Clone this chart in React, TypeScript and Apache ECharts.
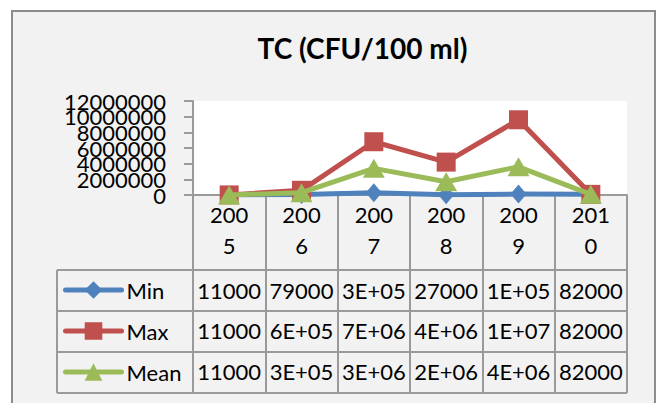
import { useEffect, useRef } from 'react';
import * as echarts from 'echarts';

// ---- data ----
const categories = ['2005', '2006', '2007', '2008', '2009', '2010'];
const seriesNames = ['Min', 'Max', 'Mean'];
const minValues = [11000, 79000, 300000, 27000, 120000, 82000];
const maxValues = [11000, 600000, 6800000, 4200000, 9600000, 82000];
const meanValues = [11000, 300000, 3400000, 1700000, 3600000, 82000];
const yTickLabels = ['0', '2000000', '4000000', '6000000', '8000000', '10000000', '12000000'];
const yMin = 0;
const yMax = 12000000;
const yStep = 2000000;
const titleText = 'TC (CFU/100 ml)';

// ---- styles ----
const FONT = 'Lato';
const GRID = '#9a9a9a';
const COLORS = ['#4f81bd', '#c0504d', '#9bbb59'];
const SYMBOLS = ['diamond', 'rect', 'triangle'];
const SYMBOL_SIZES: any[] = [[16, 19], 19, [22, 19]];

// Excel "General" format in a narrow cell
function excelGeneral(v: number): string {
  if (v < 100000) return String(v);
  return v
    .toExponential(0)
    .replace('e+', 'E+')
    .replace(/E\+(\d)$/, 'E+0$1');
}

const seriesValues = [minValues, maxValues, meanValues];
const rowMargins = [95, 135.5, 176.5];

export default function App() {
  const ref = useRef<HTMLDivElement>(null);
  useEffect(() => {
    const chart = echarts.init(ref.current!, null, { renderer: 'svg' });
    const tableLeft = 57;
    const tableRight = 627;
    const rowLines = [270, 311, 352, 393];

    chart.setOption({
      animation: false,
      backgroundColor: '#ffffff',
      grid: {
        left: 193,
        top: 101,
        width: 434,
        height: 94,
        show: true,
        backgroundColor: '#ffffff',
        borderWidth: 0,
        containLabel: false,
        outerBoundsMode: 'none',
      },
      legend: {
        show: true,
        orient: 'vertical',
        left: 63,
        top: 279,
        padding: 0,
        itemWidth: 56,
        itemHeight: 22,
        itemGap: 19,
        selectedMode: false,
        data: seriesNames,
        lineStyle: { width: 5, cap: 'round' },
        textStyle: { fontFamily: FONT, fontSize: 22, color: '#000' },
      },
      xAxis: [
        {
          type: 'category',
          data: categories,
          position: 'bottom',
          boundaryGap: true,
          axisLine: { show: true, onZero: false, lineStyle: { color: GRID, width: 2 } },
          axisTick: { show: true, length: 198, lineStyle: { color: GRID, width: 2 } },
          axisLabel: {
            interval: 0,
            margin: 35,
            verticalAlign: 'middle',
            lineHeight: 31,
            fontFamily: FONT,
            fontSize: 22,
            color: '#000',
            formatter: (v: string) => v.slice(0, 3) + '\n' + v.slice(3),
          },
          splitLine: { show: false },
        },
        ...seriesValues.map((vals, k) => ({
          type: 'category',
          data: categories,
          position: 'bottom',
          boundaryGap: true,
          axisLine: { show: false, onZero: false },
          axisTick: { show: false },
          splitLine: { show: false },
          axisLabel: {
            interval: 0,
            margin: rowMargins[k],
            verticalAlign: 'middle',
            fontFamily: FONT,
            fontSize: 22,
            color: '#000',
            formatter: (_v: string, i: number) => excelGeneral(vals[i]),
          },
        })),
      ],
      yAxis: [
        {
          type: 'value',
          min: yMin,
          max: yMax,
          interval: yStep,
          axisLine: { show: true, lineStyle: { color: GRID, width: 2 } },
          axisTick: { show: true, length: 9, lineStyle: { color: GRID, width: 2 } },
          splitLine: { show: false },
          axisLabel: { show: false },
        },
        {
          type: 'category',
          data: yTickLabels,
          position: 'left',
          boundaryGap: false,
          axisLine: { show: false, onZero: false },
          axisTick: { show: false },
          splitLine: { show: false },
          axisLabel: {
            interval: 0,
            margin: 27,
            fontFamily: FONT,
            fontSize: 22,
            color: '#000',
          },
        },
      ],
      series: seriesValues.map((vals, k) => ({
        name: seriesNames[k],
        type: 'line',
        data: vals,
        xAxisIndex: 0,
        yAxisIndex: 0,
        symbol: SYMBOLS[k],
        symbolSize: SYMBOL_SIZES[k],
        showAllSymbol: true,
        color: COLORS[k],
        itemStyle: { color: COLORS[k] },
        lineStyle: { color: COLORS[k], width: 5, cap: 'round', join: 'round' },
        z: 3 + k,
      })),
      graphic: [
        {
          type: 'rect',
          z: -100,
          silent: true,
          shape: { x: 12, y: 11, width: 643, height: 400 },
          style: { fill: '#f2f2f2', stroke: '#8c8c8c', lineWidth: 2 },
        },
        ...rowLines.map((y) => ({
          type: 'line',
          z: 10,
          silent: true,
          shape: { x1: tableLeft, y1: y, x2: tableRight, y2: y },
          style: { stroke: GRID, lineWidth: 2 },
        })),
        {
          type: 'line',
          z: 10,
          silent: true,
          shape: { x1: tableLeft, y1: rowLines[0], x2: tableLeft, y2: rowLines[rowLines.length - 1] },
          style: { stroke: GRID, lineWidth: 2 },
        },
        {
          type: 'text',
          z: 10,
          x: 362.5,
          y: 48,
          style: {
            text: titleText,
            fontFamily: FONT,
            fontWeight: 'bold',
            fontSize: 28,
            fill: '#000',
            textAlign: 'center',
            textVerticalAlign: 'middle',
          },
        },
      ],
    });
    return () => chart.dispose();
  }, []);
  return (
    <div
      ref={ref}
      style={{ position: 'fixed', left: 0, top: 0, width: 658, height: 403 }}
    />
  );
}
